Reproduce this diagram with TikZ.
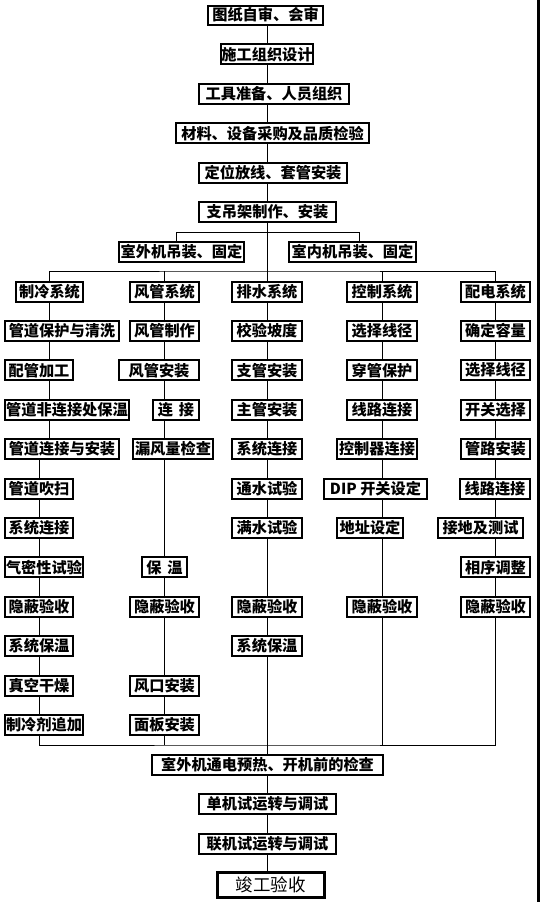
\documentclass[tikz,border=0pt]{standalone}
\usepackage{fontspec}
\newfontfamily\hei{Noto Sans CJK SC}
\usepackage{tikz}
\usetikzlibrary{backgrounds}

\begin{document}
\begin{tikzpicture}[x=1pt, y=-1pt, line width=2.2pt,
    every node/.style={draw, fill=white, line width=2pt, inner sep=0pt,
        minimum height=20pt, font=\hei\bfseries\fontsize{15.2}{16}\selectfont}]
    \useasboundingbox (0,0) rectangle (540,902);

    % preparation
    \node[minimum width=115pt, minimum height=19pt] (Drawing) at (265.5,15) {图纸自审、会审};
    \node[minimum width=92pt] (Design) at (267,54.4) {施工组织设计};
    \node[minimum width=150pt] (Tools) at (274,93.8) {工具准备、人员组织};
    \node[minimum width=193pt] (Purchase) at (272.5,133.2) {材料、设备采购及品质检验};
    \node[minimum width=148pt] (Sleeve) at (273,172.6) {定位放线、套管安装};
    \node[minimum width=137pt] (Hanger) at (267.5,212) {支吊架制作、安装};
    \node[minimum width=125pt] (Outdoor) at (181.5,252) {室外机吊装、固定};
    \node[minimum width=127pt] (Indoor) at (352.5,252) {室内机吊装、固定};

    % refrigeration
    \node[minimum width=67pt] (Ref1) at (49.5,291.5) {制冷系统};
    \node[minimum width=114pt] (Ref2) at (62,330.9) {管道保护与清洗};
    \node[minimum width=68pt] (Ref3) at (39,370.3) {配管加工};
    \node[minimum width=124pt] (Ref4) at (67,409.7) {管道非连接处保温};
    \node[minimum width=114pt] (Ref5) at (62,449.1) {管道连接与安装};
    \node[minimum width=68pt] (Ref6) at (39,488.5) {管道吹扫};
    \node[minimum width=68pt] (Ref7) at (39,527.9) {系统连接};
    \node[minimum width=78pt] (Ref8) at (44,567.3) {气密性试验};
    \node[minimum width=68pt] (Ref9) at (39,606.7) {隐蔽验收};
    \node[minimum width=68pt] (Ref10) at (39,646.1) {系统保温};
    \node[minimum width=68pt] (Ref11) at (39,685.5) {真空干燥};
    \node[minimum width=78pt] (Ref12) at (44,724.9) {制冷剂追加};

    % ducts
    \node[minimum width=69pt] (Duct1) at (164.5,291.5) {风管系统};
    \node[minimum width=69pt] (Duct2) at (164.5,330.9) {风管制作};
    \node[minimum width=80pt] (Duct3) at (159,370.3) {风管安装};
    \node[minimum width=46pt] (Duct4) at (176,409.7) {连\hspace{6pt}接};
    \node[minimum width=80pt] (Duct5) at (173,449.1) {漏风量检查};
    \node[minimum width=45pt] (Duct8) at (164.5,567.3) {保\hspace{6pt}温};
    \node[minimum width=69pt] (Duct9) at (164.5,606.7) {隐蔽验收};
    \node[minimum width=69pt] (Duct11) at (164.5,685.5) {风口安装};
    \node[minimum width=69pt] (Duct12) at (164.5,724.9) {面板安装};

    % drainage
    \node[minimum width=70pt] (Drain1) at (267,291.5) {排水系统};
    \node[minimum width=70pt] (Drain2) at (267,330.9) {校验坡度};
    \node[minimum width=70pt] (Drain3) at (267,370.3) {支管安装};
    \node[minimum width=70pt] (Drain4) at (267,409.7) {主管安装};
    \node[minimum width=70pt] (Drain5) at (267,449.1) {系统连接};
    \node[minimum width=70pt] (Drain6) at (267,488.5) {通水试验};
    \node[minimum width=70pt] (Drain7) at (267,527.9) {满水试验};
    \node[minimum width=70pt] (Drain9) at (267,606.7) {隐蔽验收};
    \node[minimum width=70pt] (Drain10) at (267,646.1) {系统保温};

    % control
    \node[minimum width=70pt] (Ctrl1) at (382,291.5) {控制系统};
    \node[minimum width=70pt] (Ctrl2) at (382,330.9) {选择线径};
    \node[minimum width=70pt] (Ctrl3) at (382,370.3) {穿管保护};
    \node[minimum width=70pt] (Ctrl4) at (382,409.7) {线路连接};
    \node[minimum width=80pt] (Ctrl5) at (377,449.1) {控制器连接};
    \node[minimum width=103pt] (Ctrl6) at (375.5,488.5) {DIP 开关设定};
    \node[minimum width=66pt] (Ctrl7) at (370,527.9) {地址设定};
    \node[minimum width=70pt] (Ctrl9) at (382,606.7) {隐蔽验收};

    % power
    \node[minimum width=69pt] (Power1) at (495.5,291.5) {配电系统};
    \node[minimum width=69pt] (Power2) at (495.5,330.9) {确定容量};
    \node[minimum width=69pt] (Power3) at (495.5,370.3) {选择线径};
    \node[minimum width=69pt] (Power4) at (495.5,409.7) {开关选择};
    \node[minimum width=69pt] (Power5) at (495.5,449.1) {管路安装};
    \node[minimum width=70pt] (Power6) at (495,488.5) {线路连接};
    \node[minimum width=85pt] (Power7) at (480.5,527.9) {接地及测试};
    \node[minimum width=69pt] (Power8) at (495.5,567.3) {相序调整};
    \node[minimum width=69pt] (Power9) at (495.5,606.7) {隐蔽验收};

    % commissioning
    \node[minimum width=231pt] (Preheat) at (267.5,764.5) {室外机通电预热、开机前的检查};
    \node[minimum width=137pt] (Single) at (267.5,804) {单机试运转与调试};
    \node[minimum width=137pt] (Joint) at (267.5,843.5) {联机试运转与调试};
    \node[minimum width=107pt, minimum height=25pt, line width=3pt,
        font=\hei\fontsize{17.5}{18}\selectfont] (Accept) at (270.5,884.5) {竣工验收};

    \coordinate (hub) at (267,271);
    \coordinate (low) at (267,745);

    \begin{scope}[on background layer]
        \draw (Drain1 |- Drawing.south) -- (Drain1 |- Accept.north);
        \draw ([xshift=-5.5pt]Outdoor.north) -- ++(0,-9) -| ([xshift=6.5pt]Indoor.north);
        \draw (Ref1.north) |- (hub) -| (Power1.north);
        \draw (Duct1.north) -- (Duct1 |- hub);
        \draw (Ctrl1.north) -- (Ctrl1 |- hub);
        \draw (Ref1.south) -- (Ref1 |- Ref5.south);
        \draw (Ref3 |- Ref5.south) |- (low) -| (Power1.south);
        \draw (Duct1.south) -- (Duct1 |- low);
        \draw (Ctrl1.south) -- (Ctrl1 |- low);
    \end{scope}

    \fill (537,0) rectangle (540,902);
\end{tikzpicture}
\end{document}
